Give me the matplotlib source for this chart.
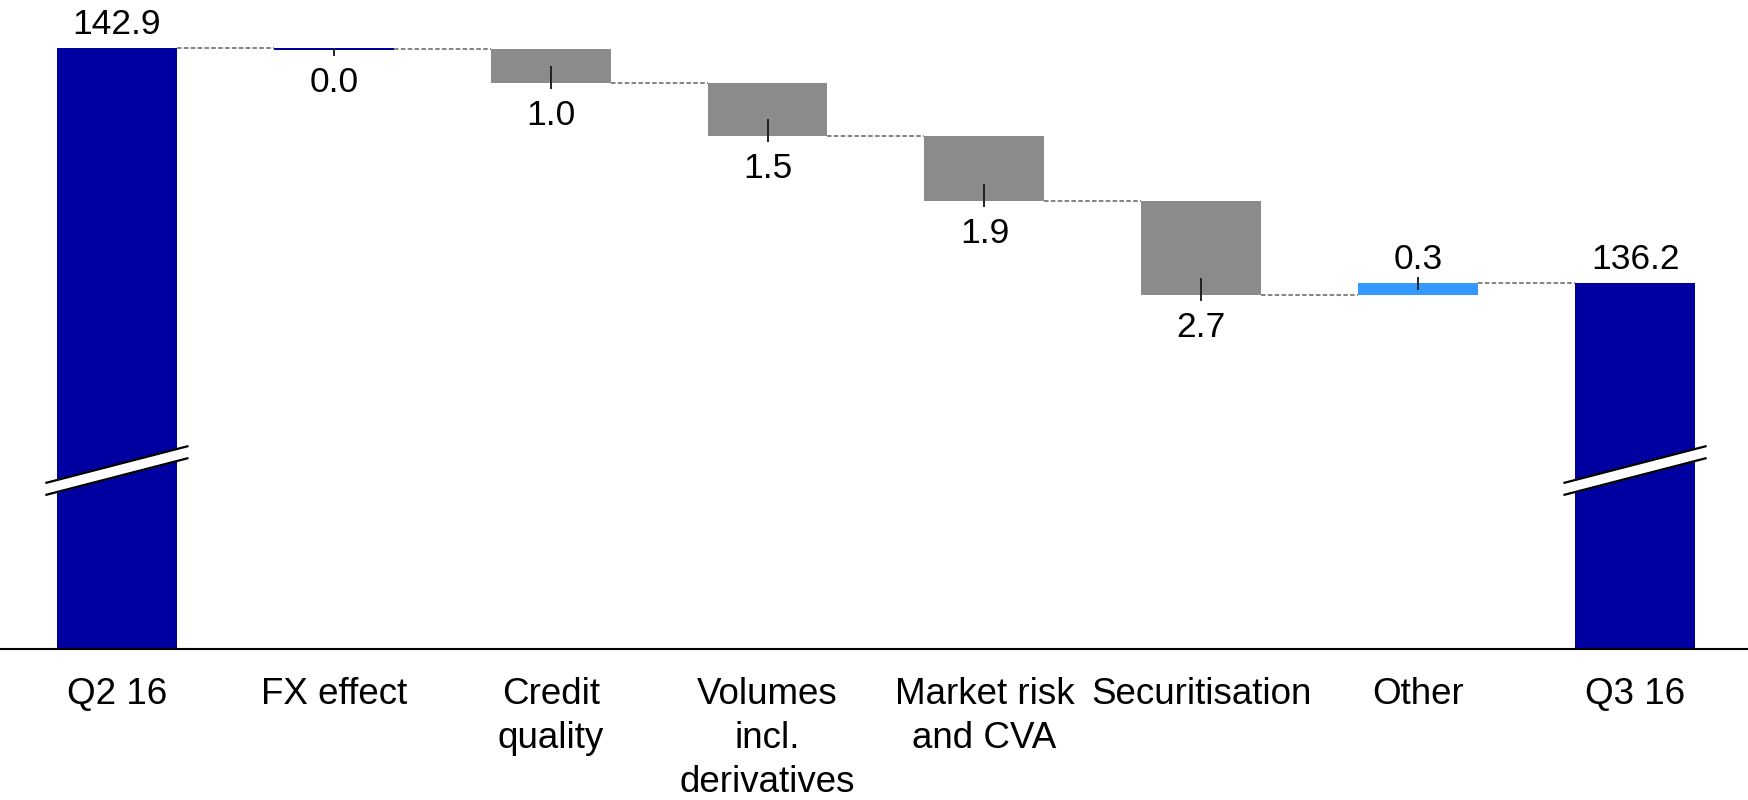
import matplotlib
matplotlib.use("Agg")
import matplotlib.pyplot as plt
import numpy as np

# ---- data ----
categories = ["Q2 16", "FX effect", "Credit\nquality", "Volumes\nincl.\nderivatives",
              "Market risk\nand CVA", "Securitisation", "Other", "Q3 16"]
start_total = 142.9
deltas = [-0.02, -0.98, -1.50, -1.87, -2.66, 0.33]
end_total = 136.2

# ---- style ----
DARK = "#0000A0"
GREY = "#8B8B8B"
LIGHT = "#3399FF"
plt.rcParams['font.family'] = ['Liberation Sans', 'DejaVu Sans']
FS = 25.5
FS_TICK = 26.5

fig = plt.figure(figsize=(17.48, 8.0), dpi=100)
ax = fig.add_axes([0, 151 / 800, 1, 649 / 800])
ylo, yhi = 125.76, 144.27
ax.set_ylim(ylo, yhi)
ax.set_xlim(-0.539, 7.521)
W = 0.553
n = len(categories)
x = np.arange(n)
px_per_unit = 649 / (yhi - ylo)
px = 1 / px_per_unit  # data units per pixel

# totals
ax.bar(x[0], start_total, width=W, color=DARK, zorder=2)
ax.bar(x[-1], end_total, width=W, color=DARK, zorder=2)

levels = [start_total]
run = start_total
for i, d in enumerate(deltas):
    xi = x[i + 1]
    new = run + d
    if i == 0:
        col = DARK
    elif d < 0:
        col = GREY
    else:
        col = LIGHT
    h = abs(d)
    if h * px_per_unit < 2:
        h = 2 * px
    lo = min(run, new) if abs(d) * px_per_unit >= 2 else run - h
    ax.bar(xi, h, bottom=lo, width=W, color=col, zorder=2)
    hpx = h * px_per_unit
    inward = min(16, hpx / 2)
    label = f"{abs(d):.1f}"
    if d < 0:
        edge = lo
        ax.plot([xi, xi], [edge + inward * px, edge - 5 * px], color="#222222", lw=1.4, zorder=3)
        ax.annotate(label, (xi, edge), xytext=(0, -42 * 0.72), textcoords="offset points",
                    ha="center", va="baseline", fontsize=FS)
    else:
        edge = lo + h
        ax.plot([xi, xi], [edge - inward * px, edge + 5 * px], color="#222222", lw=1.4, zorder=3)
        ax.annotate(label, (xi, edge), xytext=(0, 14 * 0.72), textcoords="offset points",
                    ha="center", va="baseline", fontsize=FS)
    run = new
    levels.append(run)

# labels on totals
for xi, v in [(x[0], start_total), (x[-1], end_total)]:
    ax.annotate(f"{v:.1f}", (xi, v), xytext=(0, 14 * 0.72), textcoords="offset points",
                ha="center", va="baseline", fontsize=FS)

# connectors
for i in range(n - 1):
    lvl = levels[i] if i < n - 2 else end_total
    ax.plot([x[i] + W / 2, x[i + 1] - W / 2], [lvl, lvl], color="#7A7A7A", lw=1.3,
            linestyle=(0, (2.5, 1.3)), zorder=1)

# axis break marks on total bars
for xi in (x[0], x[-1]):
    xl, xr = xi - 0.33, xi + 0.33
    yl = 142.9 - (483 - 48) * px
    yr = 142.9 - (446 - 48) * px
    off = 12 * px
    ax.fill([xl, xr, xr, xl], [yl, yr, yr - off, yl - off], color="white", zorder=4,
            clip_on=False)
    ax.plot([xl, xr], [yl, yr], color="black", lw=1.6, zorder=5, solid_capstyle="butt")
    ax.plot([xl, xr], [yl - off, yr - off], color="black", lw=1.6, zorder=5,
            solid_capstyle="butt")

# axes styling
for s in ("top", "right", "left"):
    ax.spines[s].set_visible(False)
ax.spines["bottom"].set_linewidth(1.5)
ax.set_yticks([])
ax.set_xticks(x)
ax.set_xticklabels(categories, fontsize=FS_TICK, linespacing=1.34)
ax.tick_params(axis="x", length=0, pad=20)

fig.savefig("out.png", dpi=100)
